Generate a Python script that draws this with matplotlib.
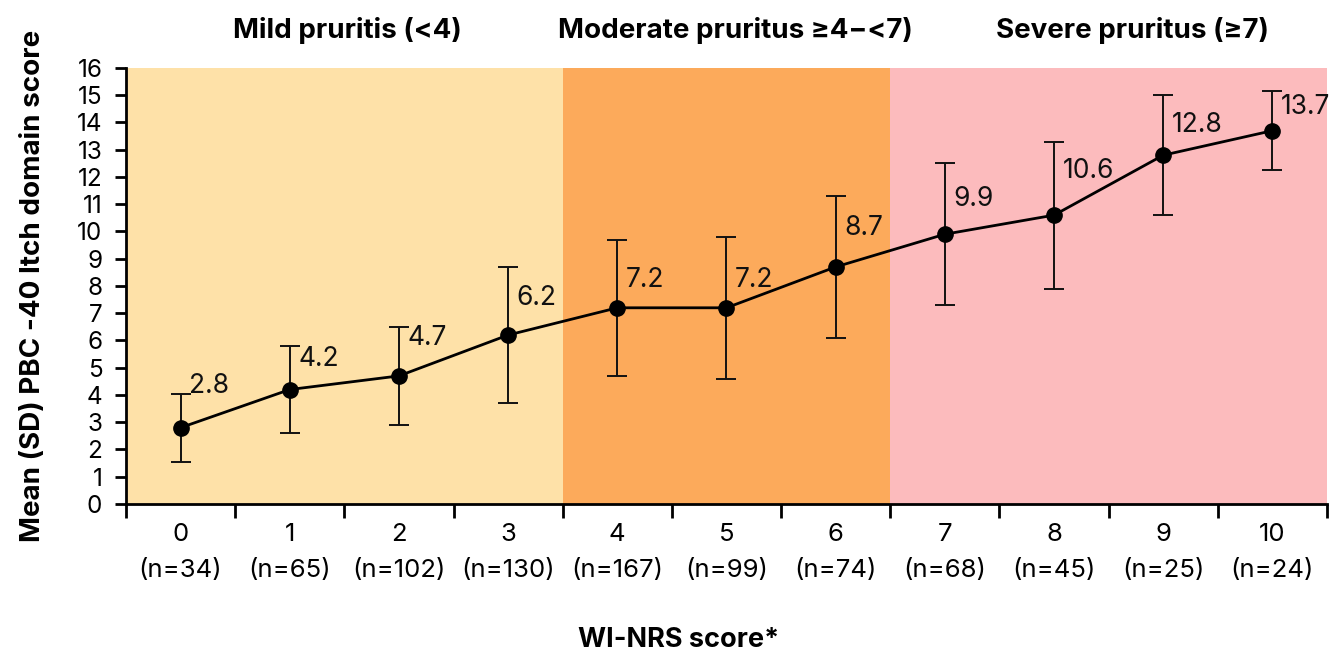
import matplotlib.pyplot as plt

plt.rcParams['font.family'] = ['Inter', 'DejaVu Sans']

# data
scores = list(range(11))
n_counts = [34, 65, 102, 130, 167, 99, 74, 68, 45, 25, 24]
means = [2.8, 4.2, 4.7, 6.2, 7.2, 7.2, 8.7, 9.9, 10.6, 12.8, 13.7]
sd = [1.25, 1.6, 1.8, 2.5, 2.5, 2.6, 2.6, 2.6, 2.7, 2.2, 1.45]
bands = [(-0.5, 3.5), (3.5, 6.5), (6.5, 10.5)]
band_titles = ['Mild pruritis (<4)', 'Moderate pruritus \u22654\u2212<7)', 'Severe pruritus (\u22657)']
band_title_x = [1.53, 5.08, 8.72]

band_colors = ['#FEE1A8', '#FCAA5B', '#FCBBBD']
# label offsets above point (points)
lab_dy = [30, 22, 27, 27, 20, 20, 28, 25, 32, 22, 17]

fig = plt.figure(figsize=(13.33, 6.57), dpi=100)
ax = fig.add_axes([0.0945, 0.2329, 0.901, 0.6636])

for (x0, x1), c in zip(bands, band_colors):
    ax.axvspan(x0, x1, color=c, lw=0, zorder=0)

ax.errorbar(scores, means, yerr=sd, fmt='none', ecolor='#111111', elinewidth=1.4,
            capsize=7.5, capthick=1.4, zorder=2)
ax.plot(scores, means, color='black', lw=2, marker='o', ms=11, zorder=3)

for x, m, dy in zip(scores, means, lab_dy):
    ax.annotate(f'{m:.1f}', (x, m), xytext=(6, dy), textcoords='offset points',
                ha='left', va='center', fontsize=19, color='#111111', zorder=4)

ax.set_xlim(-0.5, 10.5)
ax.set_ylim(0, 16)
ax.set_yticks(range(17))
ax.tick_params(axis='y', labelsize=17.5, length=8, width=2, pad=9)

ax.set_xticks([i + 0.5 for i in range(-1, 11)])
ax.set_xticklabels([])
ax.tick_params(axis='x', which='major', length=10, width=2)
ax.set_xticks(scores, minor=True)
ax.set_xticklabels([f'{s}\n(n={n})' for s, n in zip(scores, n_counts)], minor=True)
ax.tick_params(axis='x', which='minor', length=0, labelsize=18.5, pad=14)
for t in ax.get_xticklabels(minor=True):
    t.set_linespacing(1.7)

for s in ['top', 'right']:
    ax.spines[s].set_visible(False)
for s in ['left', 'bottom']:
    ax.spines[s].set_linewidth(2)

for x, t in zip(band_title_x, band_titles):
    ax.text(x, 1.087, t, transform=ax.get_xaxis_transform(), ha='center', va='center',
            fontsize=20, fontweight='bold')

ax.set_ylabel('Mean (SD) PBC -40 Itch domain score', fontsize=20, fontweight='bold', labelpad=22)
fig.text(679 / 1333, 1 - 640 / 657, 'WI-NRS score*', ha='center', va='center',
         fontsize=19.5, fontweight='bold')

fig.savefig('out.png', dpi=100)
